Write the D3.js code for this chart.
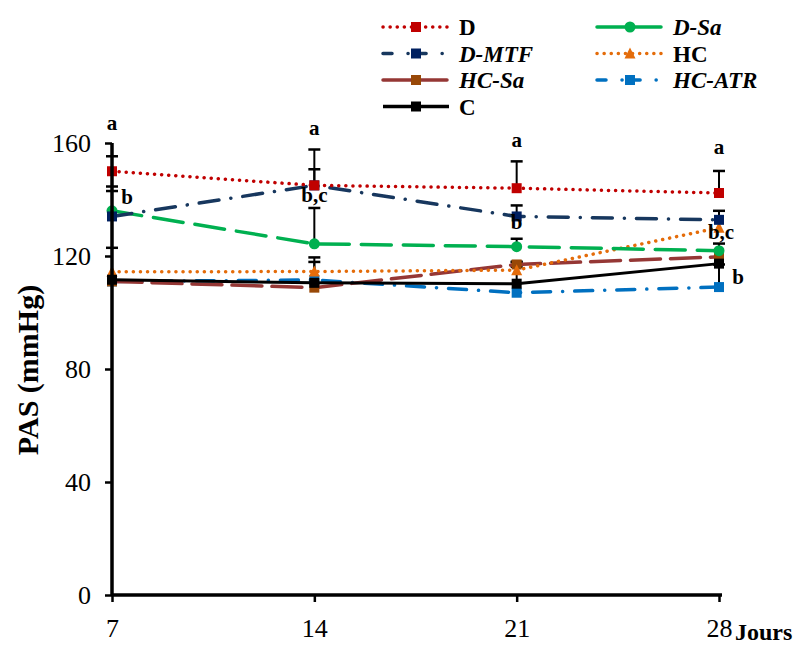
<!DOCTYPE html>
<meta charset="utf-8">
<style>
body,html{margin:0;padding:0;background:#fff;}
svg{display:block;}
</style>
<body>
<svg width="800" height="646"></svg>
<script src="https://cdn.jsdelivr.net/npm/d3@7"></script>
<script>

var days = [7, 14, 21, 28]
var yTicks = [0, 40, 80, 120, 160]

var D      = [150, 145, 144, 142.3]
var D_MTF  = [134, 145, 134, 132.8]
var D_Sa   = [136, 124.3, 123.3, 121.9]
var HC     = [114.4, 114.5, 115, 130]
var HC_Sa  = [111, 108.8, 117, 119.7]
var HC_ATR = [111, 111.5, 107, 109]
var C      = [111.6, 110.5, 110.2, 117.3]

// upper error bars only
var errD      = [5.3, 5.7, 9.5, 7.8]
var errD_MTF  = [10.6, 12.7, 3.9, 3.2]
var errD_Sa   = [7, 12.7, 2.8, 2.5]
var errHC     = [8.5, 5, 2.8, 0]
var errHC_Sa  = [0, 0, 1, 0]
var errHC_ATR = [0, 0, 0, 8]
var errC      = [0, 7.4, 6, 0]

var letters = [
  {day: 7, v: 164.5, t: "a", dx: 0}, {day: 7, v: 138.5, t: "b", dx: 15},
  {day: 14, v: 163, t: "a", dx: 0}, {day: 14, v: 139, t: "b,c", dx: 0},
  {day: 21, v: 158.5, t: "a", dx: 0}, {day: 21, v: 129.5, t: "b", dx: 0},
  {day: 28, v: 156, t: "a", dx: 0}, {day: 28, v: 126, t: "b,c", dx: 2}, {day: 28, v: 110, t: "b", dx: 19}
]

var series = [
  {name: "D", vals: D, err: errD, color: "#C00000", dash: "0.1 7", cap: "round", marker: "square", mcolor: "#C00000", italic: false},
  {name: "D-MTF", vals: D_MTF, err: errD_MTF, color: "#17375E", dash: "20 12 0.1 12", cap: "round", marker: "square", mcolor: "#002060", italic: true},
  {name: "HC-Sa", vals: HC_Sa, err: errHC_Sa, color: "#953735", dash: "30 10", cap: "round", marker: "square", mcolor: "#984807", italic: true},
  {name: "C", vals: C, err: errC, color: "#000000", dash: null, cap: "butt", marker: "square", mcolor: "#000000", italic: false},
  {name: "D-Sa", vals: D_Sa, err: errD_Sa, color: "#00B050", dash: "30 12", cap: "round", marker: "circle", mcolor: "#00B050", italic: true},
  {name: "HC", vals: HC, err: errHC, color: "#E46C0A", dash: "0.1 7", cap: "round", marker: "triangle", mcolor: "#E46C0A", italic: false},
  {name: "HC-ATR", vals: HC_ATR, err: errHC_ATR, color: "#0070C0", dash: "18 12 0.1 12", cap: "round", marker: "square", mcolor: "#0070C0", italic: true}
]

var FONT = "'Liberation Serif', serif"
var svg = d3.select("svg").style("font-family", FONT)

var x = d3.scaleLinear().domain([7, 28]).range([112, 719])
var y = d3.scaleLinear().domain([0, 160]).range([595, 143])

var line = d3.line().x(function(d, i) { return x(days[i]) }).y(function(d) { return y(d) })

function drawMarker(g, type, cx, cy, col) {
  if (type == "square") {
    g.append("rect").attr("x", cx - 5).attr("y", cy - 5).attr("width", 10).attr("height", 10).attr("fill", col)
  } else if (type == "circle") {
    g.append("circle").attr("cx", cx).attr("cy", cy).attr("r", 5.5).attr("fill", col)
  } else {
    g.append("path").attr("d", "M" + cx + "," + (cy - 6) + "L" + (cx + 5.5) + "," + (cy + 5) + "L" + (cx - 5.5) + "," + (cy + 5) + "Z").attr("fill", col)
  }
}

// error bars
var eg = svg.append("g")
series.forEach(function(s) {
  s.vals.forEach(function(v, i) {
    if (!s.err[i]) return
    var px = x(days[i]), y0 = y(v), y1 = y(v + s.err[i])
    eg.append("line").attr("x1", px).attr("x2", px).attr("y1", y0).attr("y2", y1).attr("stroke", "#000").attr("stroke-width", 2)
    eg.append("line").attr("x1", px - 6).attr("x2", px + 6).attr("y1", y1).attr("y2", y1).attr("stroke", "#000").attr("stroke-width", 2.5)
  })
})

// lines, drawn so C ends up near the top
var order = ["HC-ATR", "HC-Sa", "HC", "D-Sa", "D-MTF", "D", "C"]
order.forEach(function(n) {
  var s = series.find(function(d) { return d.name == n })
  svg.append("path").datum(s.vals).attr("d", line).attr("fill", "none")
    .attr("stroke", s.color).attr("stroke-width", s.name == "C" ? 3 : 3.5)
    .attr("stroke-dasharray", s.dash).attr("stroke-linecap", s.cap)
  var mg = svg.append("g")
  s.vals.forEach(function(v, i) { drawMarker(mg, s.marker, x(days[i]), y(v), s.mcolor) })
})

// axes
var yAxis = svg.append("g").attr("transform", "translate(112,0)")
  .call(d3.axisLeft(y).tickValues(yTicks).tickSize(7).tickSizeOuter(0).tickPadding(14))
var xAxis = svg.append("g").attr("transform", "translate(0,595)")
  .call(d3.axisBottom(x).tickValues(days).tickSize(7).tickSizeOuter(0).tickPadding(17))
;[yAxis, xAxis].forEach(function(a) {
  a.attr("font-family", null)
  a.select(".domain").attr("stroke", "#000").attr("stroke-width", 3.5)
  a.selectAll(".tick line").attr("stroke", "#000").attr("stroke-width", 2.5)
  a.selectAll("text").attr("font-size", 26).attr("fill", "#000")
})
yAxis.select(".domain").attr("d", "M0," + y(0) + "V" + y(160))
xAxis.select(".domain").attr("d", "M" + x(7) + ",0H" + (x(28) + 3))

svg.append("text").attr("x", 735).attr("y", 640).attr("font-size", 24).attr("font-weight", "bold").text("Jours")

svg.append("text").attr("transform", "translate(38,370) rotate(-90)").attr("text-anchor", "middle")
  .attr("font-size", 30).attr("font-weight", "bold").text("PAS (mmHg)")

// significance letters
svg.append("g").selectAll("text").data(letters).enter().append("text")
  .attr("x", function(d) { return x(d.day) + d.dx })
  .attr("y", function(d) { return y(d.v) })
  .attr("text-anchor", "middle").attr("font-size", 21).attr("font-weight", "bold")
  .text(function(d) { return d.t })

// legend
var leg = svg.append("g")
series.forEach(function(s, i) {
  var col = i < 4 ? 0 : 1, row = i < 4 ? i : i - 4
  var lx = col == 0 ? 383 : 597, ly = 27 + row * 26.5
  leg.append("line").attr("x1", lx).attr("x2", lx + 66).attr("y1", ly).attr("y2", ly)
    .attr("stroke", s.color).attr("stroke-width", 3.5)
    .attr("stroke-dasharray", s.dash ? (s.dash.split(" ").length > 2 ? "9 16 0.1 9" : (s.dash == "0.1 7" ? "0.1 7" : "28 8")) : null)
    .attr("stroke-linecap", s.cap)
  drawMarker(leg, s.marker, lx + 33, ly, s.mcolor)
  leg.append("text").attr("x", lx + 76).attr("y", ly + 8).attr("font-size", 23).attr("font-weight", "bold")
    .attr("font-style", s.italic ? "italic" : "normal").text(s.name)
})

svg.selectAll("text").style("font-family", FONT)

</script>
</body>
